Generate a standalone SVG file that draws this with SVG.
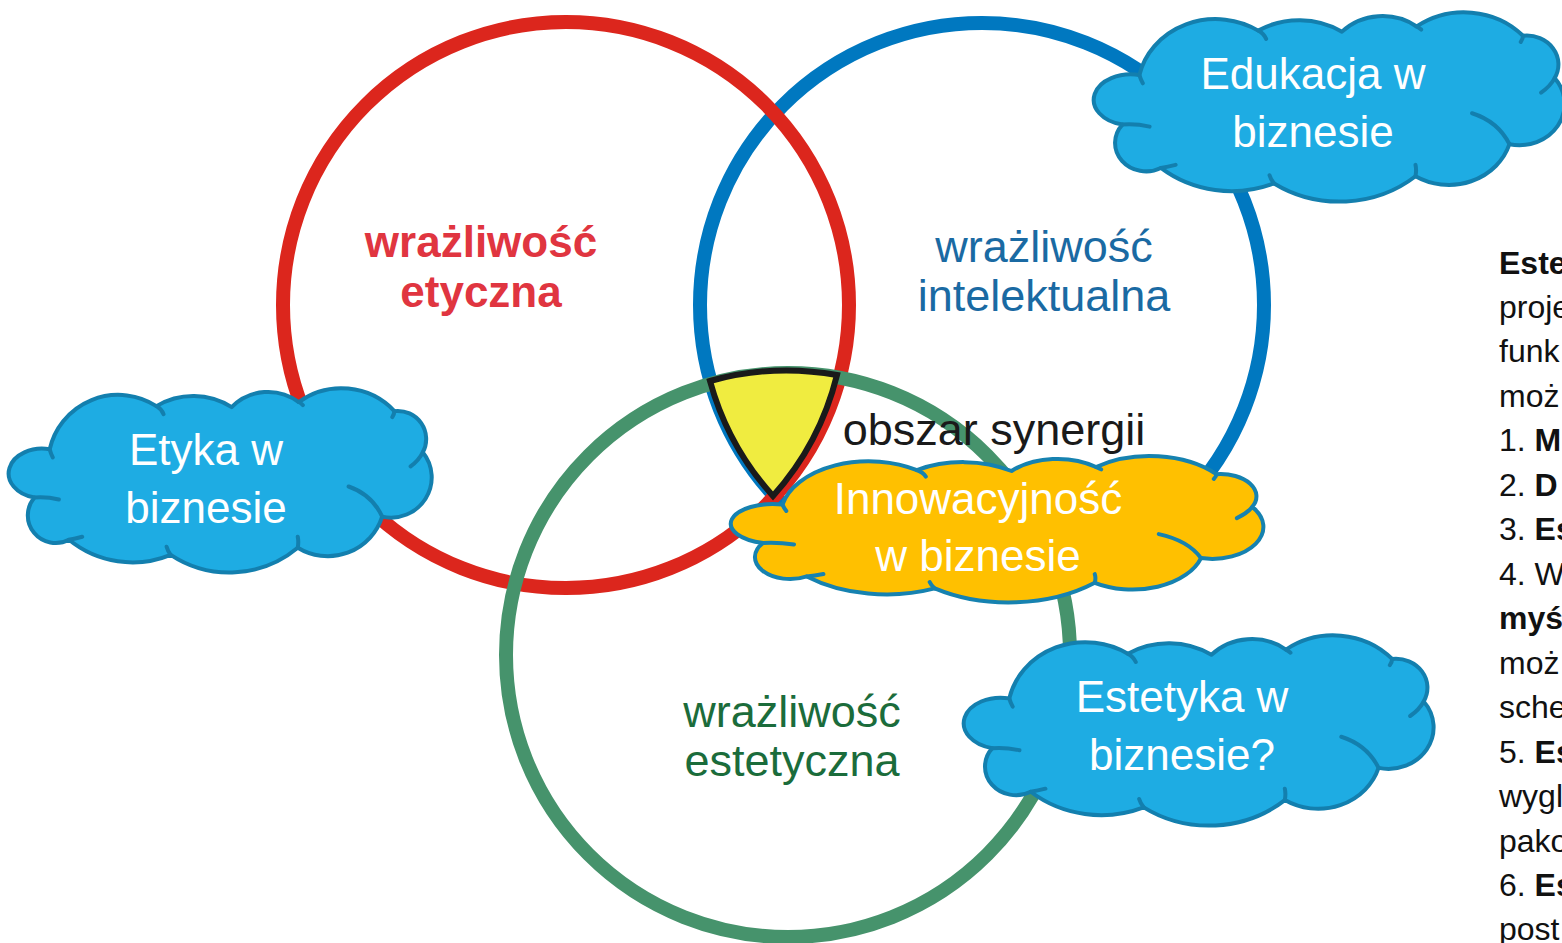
<svg xmlns="http://www.w3.org/2000/svg" width="1562" height="943" viewBox="0 0 1562 943">
<style>
.ring{fill:none;stroke-width:14}
.lbl{font-family:"Liberation Sans",Arial,sans-serif;text-anchor:middle}
.cb{stroke-width:4;stroke-linejoin:round}
.cc{fill:none;stroke-width:4;stroke-linecap:round}
.ctext{font-family:"Liberation Sans",Arial,sans-serif;font-size:44px;fill:#ffffff;text-anchor:middle}
.side{font-family:"Liberation Sans",Arial,sans-serif;font-size:32px;fill:#111111}
.b{font-weight:bold}
</style>
<defs>
<g id="cloud">
<path class="cb" vector-effect="non-scaling-stroke" d="M48,70 A32,24 0 0,0 33,118 A27.5,27.5 0 0,0 67,160 A98,98 0 0,0 167,175 A104,104 0 0,0 292,168 A56,56 0 0,0 375,137 A40,40 0 0,0 415,73 A28,28 0 0,0 387,32 A71,71 0 0,0 293,23 A50,50 0 0,0 227,28 A70,70 0 0,0 153,27 A69,69 0 0,0 48,70 Z"/>
<path class="cc" vector-effect="non-scaling-stroke" d="M48,70 Q49,74 51,78 M33,118 Q45,117 57,120 M67,160 Q73,159 80,157 M167,175 Q164,171 163,167 M292,168 Q293,162 292,157 M375,137 Q365,115 342,107 M415,73 Q411,81 403,87 M387,32 Q387,35 385,38 M293,23 Q295,24 297,26 M153,27 Q158,30 160,35"/>
</g>
</defs>
<rect width="1562" height="943" fill="#ffffff"/>
<g id="circle-intelektualna">
<circle class="ring" cx="982" cy="305" r="282" stroke="#0078c0"/>
<text class="lbl" x="1044" y="262" font-size="45" fill="#1a6aa3">wrażliwość</text>
<text class="lbl" x="1044" y="311" font-size="45" fill="#1a6aa3">intelektualna</text>
</g>
<g id="circle-etyczna">
<circle class="ring" cx="566" cy="305" r="283" stroke="#dc261d"/>
<text class="lbl" x="481" y="257" font-size="44" font-weight="bold" fill="#e03540">wrażliwość</text>
<text class="lbl" x="481" y="307" font-size="44" font-weight="bold" fill="#e03540">etyczna</text>
</g>
<g id="circle-estetyczna">
<circle class="ring" cx="788" cy="655" r="282" stroke="#46936c"/>
<text class="lbl" x="792" y="727" font-size="45" fill="#1b6c3b">wrażliwość</text>
<text class="lbl" x="792" y="776" font-size="45" fill="#1b6c3b">estetyczna</text>
</g>
<g id="synergia">
<path d="M710,381 A284,284 0 0,1 837,375 A283,283 0 0,1 773,496 A282,282 0 0,1 710,381 Z" fill="#f0ec40" stroke="#1a1a1a" stroke-width="6" stroke-linejoin="miter"/>
<text class="lbl" x="994" y="445" font-size="45" fill="#1a1a1a">obszar synergii</text>
</g>
<g id="connectors"></g>
<g id="cloud-etyka">
<use href="#cloud" transform="translate(0.88,378.96) scale(1.0167,1.005)" fill="#1eace3" stroke="#137fae"/>
<text class="ctext" x="206" y="465">Etyka w</text>
<text class="ctext" x="206" y="523">biznesie</text>
</g>
<g id="cloud-edukacja">
<use href="#cloud" transform="translate(1085.08,2.74) scale(1.1316,1.0326)" fill="#1eace3" stroke="#137fae"/>
<text class="ctext" x="1313" y="89">Edukacja w</text>
<text class="ctext" x="1313" y="147">biznesie</text>
</g>
<g id="cloud-estetyka">
<use href="#cloud" transform="translate(955.1,625.7) scale(1.1292,1.038)" fill="#1eace3" stroke="#137fae"/>
<text class="ctext" x="1182" y="712">Estetyka w</text>
<text class="ctext" x="1182" y="770">biznesie?</text>
</g>
<g id="cloud-innowacyjnosc">
<use href="#cloud" transform="translate(721.04,448.61) scale(1.2799,0.799)" fill="#ffc000" stroke="#1682b0"/>
<text class="ctext" x="978" y="514">Innowacyjność</text>
<text class="ctext" x="978" y="571">w biznesie</text>
</g>
<g id="side-text">
<text class="side" x="1499" y="274"><tspan class="b">Este</tspan></text>
<text class="side" x="1499" y="318">proje</text>
<text class="side" x="1499" y="362">funk</text>
<text class="side" x="1499" y="407">moż</text>
<text class="side" x="1499" y="451">1. <tspan class="b">M</tspan></text>
<text class="side" x="1499" y="496">2. <tspan class="b">D</tspan></text>
<text class="side" x="1499" y="540">3. <tspan class="b">Es</tspan></text>
<text class="side" x="1499" y="585">4. W</text>
<text class="side" x="1499" y="629"><tspan class="b">myś</tspan></text>
<text class="side" x="1499" y="674">moż</text>
<text class="side" x="1499" y="718">sche</text>
<text class="side" x="1499" y="763">5. <tspan class="b">Es</tspan></text>
<text class="side" x="1499" y="807">wygl</text>
<text class="side" x="1499" y="852">pako</text>
<text class="side" x="1499" y="896">6. <tspan class="b">Es</tspan></text>
<text class="side" x="1499" y="940">post</text>
</g>
</svg>
